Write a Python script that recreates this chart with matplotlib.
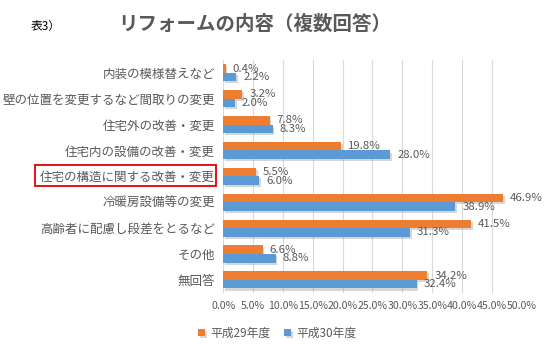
import numpy as np
import matplotlib
matplotlib.use('Agg')
import matplotlib.pyplot as plt
import matplotlib.patheffects as pe
from matplotlib.patches import Rectangle

plt.rcParams['font.family'] = ['Noto Sans CJK JP', 'DejaVu Sans']

categories = ['内装の模様替えなど', '壁の位置を変更するなど間取りの変更', '住宅外の改善・変更',
              '住宅内の設備の改善・変更', '住宅の構造に関する改善・変更', '冷暖房設備等の変更',
              '高齢者に配慮し段差をとるなど', 'その他', '無回答']
h29 = [0.4, 3.2, 7.8, 19.8, 5.5, 46.9, 41.5, 6.6, 34.2]
h30 = [2.2, 2.0, 8.3, 28.0, 6.0, 38.9, 31.3, 8.8, 32.4]
series_names = ['平成29年度', '平成30年度']
xticks = np.arange(0, 50.1, 5)

c29 = '#ED7D31'
c30 = '#5B9BD5'
txt = '#595959'

fig = plt.figure(figsize=(5.51, 3.52), dpi=100)
ax = fig.add_axes([0.405, 0.168, 0.542, 0.662])

y = np.arange(len(categories))
h = 0.33
shadow = [pe.SimplePatchShadow(offset=(1.2, -1.5), shadow_rgbFace='#999999', alpha=0.4), pe.Normal()]
b1 = ax.barh(y - h / 2, h29, height=h, color=c29, label=series_names[0], zorder=3, path_effects=shadow)
b2 = ax.barh(y + h / 2, h30, height=h, color=c30, label=series_names[1], zorder=3, path_effects=shadow)

for bars, vals in [(b1, h29), (b2, h30)]:
    for bar, v in zip(bars, vals):
        ax.annotate('%.1f%%' % v, (bar.get_width(), bar.get_y() + bar.get_height() / 2),
                    xytext=(5, 0), textcoords='offset points', va='center', ha='left',
                    fontsize=8.2, color=txt, zorder=4)

ax.set_xlim(0, 50)
ax.set_ylim(len(categories) - 0.5, -0.5)
ax.set_xticks(xticks)
ax.set_xticklabels(['%.1f%%' % t for t in xticks], fontsize=7.6, color=txt)
ax.set_yticks(y)
ax.set_yticklabels(categories, fontsize=9, color=txt)
ax.tick_params(length=0, pad=6)
ax.xaxis.grid(True, color='#D9D9D9', linewidth=0.8, zorder=0)
for s in ax.spines.values():
    s.set_visible(False)

# red box around one category label
fig.patches.append(Rectangle((35 / 551, 1 - 186 / 352), 181 / 551, 21 / 352,
                             transform=fig.transFigure, fill=False, edgecolor='#E00000', linewidth=1.3))

fig.text(0.462, 0.93, 'リフォームの内容（複数回答）', ha='center', va='center', fontsize=14,
         fontweight='bold', color=txt)
fig.text(0.055, 0.925, '表3）', ha='left', va='center', fontsize=8.5, color='black')

fig.legend(handles=[b1, b2], labels=series_names, loc='center', bbox_to_anchor=(0.503, 0.054),
           ncol=2, frameon=False, fontsize=8.5, labelcolor=txt, handlelength=0.6, handleheight=0.6,
           handletextpad=0.4, columnspacing=1.2)

fig.savefig('out.png', dpi=100)
